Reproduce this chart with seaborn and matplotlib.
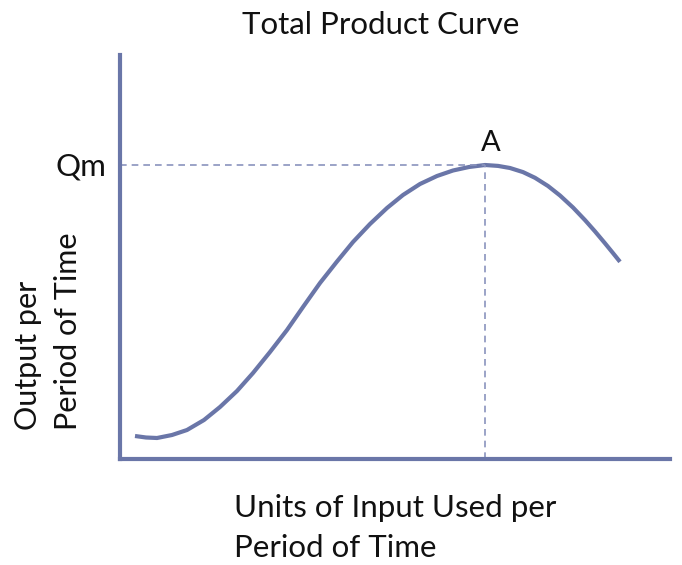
import matplotlib
matplotlib.use("Agg")
import matplotlib.pyplot as plt
import seaborn as sns
import pandas as pd

# Data (arbitrary units)
input_units = [15, 26, 37, 52, 67, 84, 100, 117, 133, 150, 167, 183, 200, 217, 233, 250, 267, 283,
               300, 317, 333, 349, 365, 378, 390, 403, 415, 428, 440, 453, 465, 475, 485, 493, 500]
output = [23, 21.5, 21, 24, 29, 39, 52, 68, 86, 107, 129, 152, 176, 197.5, 217, 235, 251, 264,
          275, 283, 288.5, 292, 294, 293.1, 291.0, 286.9, 281.2, 273.0, 263.5, 251.5, 238.9,
          227.6, 215.7, 205.9, 197.2]
peak_x = 365
peak_y = 294
title = "Total Product Curve"
x_label = "Units of Input Used per\nPeriod of Time"
y_label = "Output per\nPeriod of Time"

sns.set_theme(style="white")
plt.rcParams['font.family'] = ['Lato', 'DejaVu Sans']

line_color = "#6a76a8"
dash_color = "#8a93bd"

fig = plt.figure(figsize=(6.82, 5.65), dpi=100)
ax = fig.add_axes([120/682, 1-459/565, 550/682, 404/565])

df = pd.DataFrame({"x": input_units, "y": output})
sns.lineplot(data=df, x="x", y="y", ax=ax, color=line_color, linewidth=3.0,
             sort=False, solid_capstyle="butt", solid_joinstyle="round")

ax.plot([0, peak_x], [peak_y, peak_y], linestyle=(0, (4, 3)), color=dash_color, linewidth=1.2)
ax.plot([peak_x, peak_x], [0, peak_y], linestyle=(0, (4, 3)), color=dash_color, linewidth=1.2)

ax.set_xlim(0, 550)
ax.set_ylim(0, 404)
ax.set_xticks([])
ax.set_yticks([])
ax.set_xlabel("")
ax.set_ylabel("")
for s in ["top", "right"]:
    ax.spines[s].set_visible(False)
for s in ["left", "bottom"]:
    ax.spines[s].set_color(line_color)
    ax.spines[s].set_linewidth(3.0)

ax.text(-14, peak_y - 2, "Qm", ha="right", va="center", fontsize=22.5, color="#111111")
ax.text(peak_x + 6, peak_y + 9, "A", ha="center", va="bottom", fontsize=21, color="#111111")

fig.text(381/682, 1-25/565, title, ha="center", va="center", fontsize=22.5, color="#111111")
fig.text(234/682, 1-528/565, x_label, ha="left", va="center", fontsize=22.5,
         color="#111111", linespacing=1.55, multialignment="left")
fig.text(48/682, 1-331/565, y_label, ha="center", va="center", fontsize=22, rotation=90,
         color="#111111", linespacing=1.55, multialignment="left")

fig.savefig("out.png", dpi=100, facecolor="white")
